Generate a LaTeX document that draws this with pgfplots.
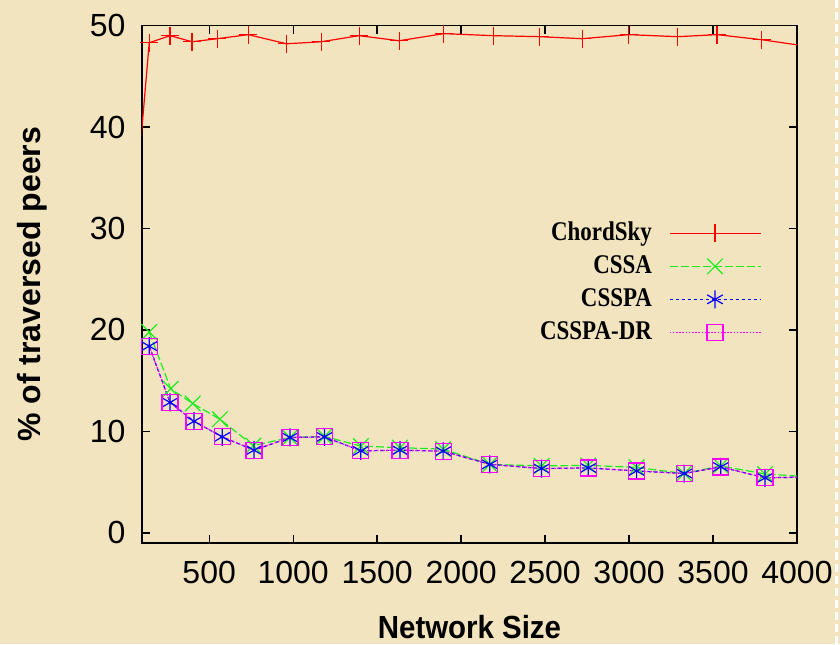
\documentclass[border=0pt]{standalone}
\usepackage{fontspec}
\setmainfont{Liberation Serif}
\setsansfont{Liberation Sans}
\newfontfamily\legfont{Liberation Serif}[FakeStretch=0.85]
\newfontfamily\xlabfont{Liberation Sans}[FakeStretch=0.92]
\usepackage{pgfplots}
\pgfplotsset{compat=1.18}
\definecolor{bg}{RGB}{243,228,192}
\definecolor{cred}{RGB}{255,0,0}
\definecolor{cgreen}{RGB}{30,235,30}
\definecolor{cblue}{RGB}{0,0,255}
\definecolor{cmag}{RGB}{255,0,255}
\begin{document}
\begin{tikzpicture}
\fill[bg] (-71pt,-50.65pt) rectangle (349pt,271.5pt);
\draw[white, line width=1.5pt, dash pattern=on 4pt off 2pt] (347.2pt,-50.65pt) -- (347.2pt,271.5pt);
\begin{axis}[
  scale only axis, width=327.5pt, height=258.75pt,
  xmin=100, xmax=4000, ymin=-1, ymax=50,
  xtick={500,1000,...,4000}, ytick={0,10,...,50},
  tick align=inside, major tick length=4pt,
  axis line style={line width=0.65pt, black},
  tick style={line width=0.65pt, black},
  /pgf/number format/assume math mode=true,
  /pgf/number format/set thousands separator={},
  ticklabel style={font=\sffamily\fontsize{16}{16}\selectfont},
  xticklabel style={yshift=-5.7pt},
  yticklabel style={xshift=-4.7pt},
  xlabel={Network Size}, ylabel={\% of traversed peers},
  every axis x label/.style={at={(axis description cs:0.5,-0.162)},anchor=center,
    font=\xlabfont\bfseries\fontsize{16}{16}\selectfont},
  every axis y label/.style={at={(axis description cs:-0.168,0.5)},anchor=center,rotate=90,
    font=\sffamily\bfseries\fontsize{16}{16}\selectfont},
  legend plot pos=right,
  legend cell align=right,
  legend image code/.code={\draw[mark repeat=2,mark phase=2,#1] plot coordinates {(0pt,0pt) (22.75pt,0pt) (45.5pt,0pt)};},
  legend style={draw=none, fill=none, at={(rel axis cs:0.955,0.632)}, anchor=north east,
    font=\legfont\bfseries\fontsize{13.5}{13.5}\selectfont,
    nodes={inner ysep=0pt, text height=10pt, text depth=3pt},
    row sep=3.5pt,
    /tikz/every odd column/.append style={column sep=6.5pt}},
]
\addplot[cred, line width=0.6pt, mark=+, mark size=4.5pt] coordinates {
 (50,30.3) (143,48.3) (267,49.0) (398,48.4) (548,48.7) (733,49.1) (961,48.2)
 (1167,48.4) (1393,49.0) (1631,48.5) (1897,49.2) (2191,49.0) (2469,48.9)
 (2721,48.7) (2999,49.1) (3290,48.9) (3524,49.1) (3790,48.6) (4060,47.95)};
\addlegendentry{ChordSky}
\addplot[cgreen, line width=0.6pt, dash pattern=on 4pt off 1.5pt, mark=x, mark size=5.5pt, mark options={solid}] coordinates {
 (143,19.8) (271,14.2) (402,12.75) (564,11.2) (763,8.6) (981,9.4) (1187,9.5)
 (1403,8.55) (1636,8.4) (1893,8.25) (2171,6.75) (2479,6.6) (2757,6.65)
 (3045,6.45) (3328,5.85) (3546,6.6) (3810,5.8) (4050,5.55)};
\addlegendentry{CSSA}
\addplot[cblue, line width=0.6pt, dash pattern=on 1.7pt off 1.3pt, mark=asterisk, mark size=4.5pt, mark options={solid}] coordinates {
 (143,18.4) (267,12.85) (410,11.0) (578,9.46) (767,8.15) (981,9.4) (1187,9.46)
 (1403,8.08) (1636,8.15) (1893,8.05) (2171,6.75) (2479,6.34) (2757,6.4)
 (3045,6.1) (3328,5.85) (3546,6.5) (3810,5.42) (4050,5.5)};
\addlegendentry{CSSPA}
\addplot[cmag, line width=0.6pt, dash pattern=on 0.8pt off 0.8pt, mark=square, mark size=4pt, mark options={solid}] coordinates {
 (143,18.4) (267,12.85) (410,11.0) (578,9.46) (767,8.15) (981,9.4) (1187,9.46)
 (1403,8.08) (1636,8.15) (1893,8.05) (2171,6.75) (2479,6.34) (2757,6.4)
 (3045,6.1) (3328,5.85) (3546,6.5) (3810,5.42) (4050,5.5)};
\addlegendentry{CSSPA-DR}
\end{axis}
\pgfresetboundingbox
\path (-71pt,-50.65pt) rectangle (349pt,271.5pt);
\end{tikzpicture}
\end{document}
